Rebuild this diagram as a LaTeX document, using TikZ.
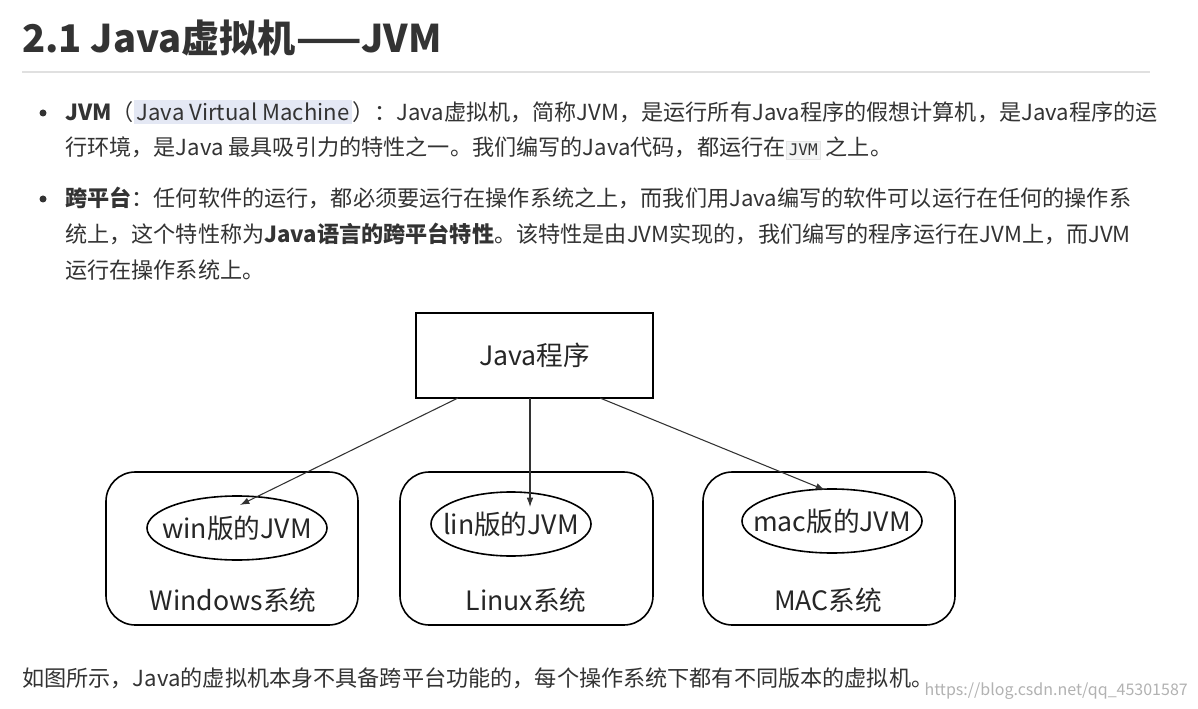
\documentclass[tikz,border=0pt]{standalone}
\usepackage{fontspec}
\setmainfont{Noto Sans CJK SC}
\newfontfamily\monof{DejaVu Sans Mono}
\usetikzlibrary{arrows.meta}
\definecolor{txt}{HTML}{333333}
\definecolor{codebg}{HTML}{F3F4F4}
\definecolor{hl}{HTML}{E4E8F4}
\tikzset{
  para/.style={anchor=west,inner sep=0pt,font=\fontsize{16.6}{18}\selectfont,text=txt},
  dbox/.style={draw=black,line width=1.2pt,inner sep=0pt},
  dtext/.style={font=\fontsize{20}{22}\selectfont,text=black!85},
  arr/.style={draw=black!80,line width=0.8pt,-{Latex[length=7pt,width=5pt]}}
}
\setlength{\fboxsep}{2pt}
\begin{document}
\begin{tikzpicture}[x=0.75pt,y=-0.75pt]
\useasboundingbox[fill=white] (0,0) rectangle (1198,709);
\node[anchor=west,inner sep=0pt,font=\fontsize{28.6}{32}\selectfont\bfseries,text=txt] (title) at (22,38) {2.1 Java虚拟机——JVM};
\draw[black!12,line width=1pt] (22,72) -- (1150,72);
% bullet 1
\fill[txt] (43,113) circle (3.5);
\node[para] (b1a) at (65,112) {\textbf{JVM}（\colorbox{hl}{Java Virtual Machine}）：Java虚拟机，简称JVM，是运行所有Java程序的假想计算机，是Java程序的运};
\node[para] (b1b) at (65,148) {行环境，是Java 最具吸引力的特性之一。我们编写的Java代码，都运行在\fcolorbox{black!10}{codebg}{\monof\fontsize{12}{13}\selectfont JVM} 之上。};
% bullet 2
\fill[txt] (43,199) circle (3.5);
\node[para] (b2a) at (65,198) {\textbf{跨平台}：任何软件的运行，都必须要运行在操作系统之上，而我们用Java编写的软件可以运行在任何的操作系};
\node[para] (b2b) at (65,234) {统上，这个特性称为\textbf{Java语言的跨平台特性}。该特性是由JVM实现的，我们编写的程序运行在JVM上，而JVM};
\node[para] (b2c) at (65,270) {运行在操作系统上。};
% diagram
\node[dbox,minimum width=237pt*0.75,minimum height=85pt*0.75,dtext] (java) at (534.5,355.5) {Java程序};
\node[dbox,rounded corners=22,minimum width=252pt*0.75,minimum height=153pt*0.75] (win) at (232,548.5) {};
\node[dbox,rounded corners=22,minimum width=253pt*0.75,minimum height=153pt*0.75] (lin) at (526.5,548.5) {};
\node[dbox,rounded corners=22,minimum width=252pt*0.75,minimum height=153pt*0.75] (mac) at (829,548.5) {};
\draw[line width=1.2pt] (237,528) ellipse [x radius=90*0.75pt,y radius=32*0.75pt];
\draw[line width=1.2pt] (511,524) ellipse [x radius=80*0.75pt,y radius=32*0.75pt];
\draw[line width=1.2pt] (832,521) ellipse [x radius=90*0.75pt,y radius=32*0.75pt];
\node[dtext] (winj) at (237,528) {win版的JVM};
\node[dtext] (linj) at (511,524) {lin版的JVM};
\node[dtext] (macj) at (832,521) {mac版的JVM};
\node[dtext] (wins) at (233,600) {Windows系统};
\node[dtext] (lins) at (526,600) {Linux系统};
\node[dtext] (macs) at (828,600) {MAC系统};
\coordinate (ja) at (458,398); \coordinate (jb) at (530,398); \coordinate (jc) at (600,398);
\coordinate (ta) at (240,505); \coordinate (tb) at (530,507); \coordinate (tc) at (825,490);
\draw[arr] (ja) -- (ta);
\draw[arr] (jb) -- (tb);
\draw[arr] (jc) -- (tc);
% bottom
\node[para] (foot) at (22,678) {如图所示，Java的虚拟机本身不具备跨平台功能的，每个操作系统下都有不同版本的虚拟机。};
\node[anchor=east,inner sep=0pt,font=\fontsize{12}{13}\selectfont,text=black!30] (wm) at (1188,691) {https://blog.csdn.net/qq\_45301587};
\end{tikzpicture}
\end{document}
